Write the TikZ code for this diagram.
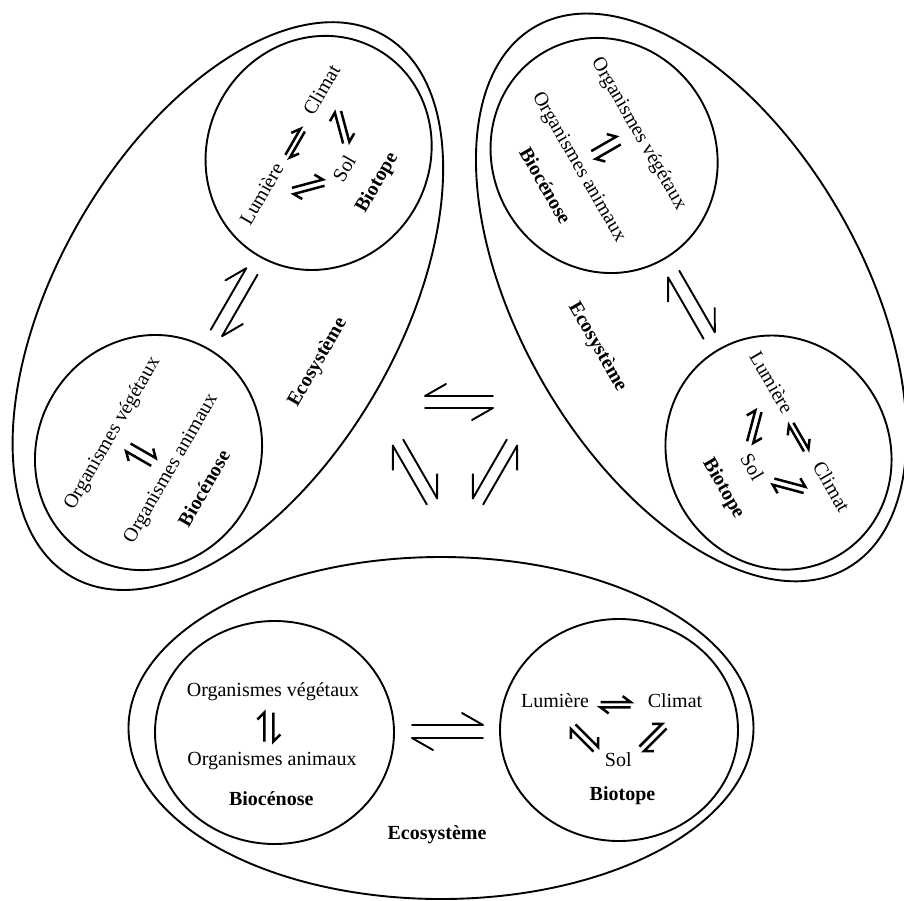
\documentclass[tikz,border=0pt]{standalone}
\usepackage{fontspec}
\setmainfont{Liberation Serif}
\usetikzlibrary{shapes.geometric}
\tikzset{
  txt/.style={font=\fontsize{20}{24}\selectfont, inner sep=0pt, anchor=base},
  btxt/.style={txt, font=\fontsize{20}{24}\selectfont\bfseries},
  ring/.style={draw, ellipse, line width=1.9pt, inner sep=0pt, outer sep=0pt},
  bigharp/.style={line width=1.9pt, line cap=round, line join=round},
  smallharp/.style={line width=2.5pt, line cap=butt, line join=miter},
}
% rightwards harpoon over leftwards harpoon: x, y, angle, half length, half gap, barb dx, barb dy
\newcommand{\harpR}[7]{%
  \begin{scope}[shift={(#1,#2)}, rotate=#3]
    \draw (-#4,#5) -- (#4,#5) -- ++(-#6,#7);
    \draw (#4,-#5) -- (-#4,-#5) -- ++(#6,-#7);
  \end{scope}}
% leftwards harpoon over rightwards harpoon
\newcommand{\harpL}[7]{%
  \begin{scope}[shift={(#1,#2)}, rotate=#3]
    \draw (#4,#5) -- (-#4,#5) -- ++(#6,#7);
    \draw (-#4,-#5) -- (#4,-#5) -- ++(-#6,-#7);
  \end{scope}}
\newcommand{\ecogroup}[1]{%
  \node[ring, minimum width=625pt, minimum height=342pt] (#1-eco) at (441,-728) {};
  \node[ring, minimum width=239pt, minimum height=223pt] (#1-bioc) at (274.5,-732.5) {};
  \node[ring, minimum width=238pt, minimum height=222pt] (#1-biot) at (619,-730) {};
  \node[txt] (#1-veg) at (273,-696.7) {Organismes végétaux};
  \node[txt] (#1-ani) at (272,-765) {Organismes animaux};
  \node[btxt] (#1-bcn) at (271.3,-805) {Biocénose};
  \node[txt] (#1-lum) at (555,-707.7) {Lumière};
  \node[txt] (#1-cli) at (675,-707.7) {Climat};
  \node[txt] (#1-sol) at (618.3,-766.7) {Sol};
  \node[btxt] (#1-btp) at (622.5,-800.7) {Biotope};
  \node[btxt] (#1-ecl) at (437,-839) {Ecosystème};
  \begin{scope}[smallharp]
    \harpR{268.8}{-727}{90}{14.5}{4.5}{7}{7}
    \harpR{615.7}{-704.8}{0}{15}{2.6}{8}{6}
    \harpR{584.5}{-738}{-45}{16}{3.2}{7}{7}
    \harpR{653}{-737.5}{45}{16}{3.2}{7}{7}
  \end{scope}
  \begin{scope}[bigharp]
    \harpR{447.5}{-731.5}{0}{35.5}{6.5}{21}{12}
  \end{scope}
}
\begin{document}
\begin{tikzpicture}[x=1pt,y=1pt]
\useasboundingbox (0,-900) rectangle (904,0);
\ecogroup{b}
\begin{scope}[shift={(-623.1,-324)}, rotate=60, transform shape]
  \ecogroup{l}
\end{scope}
\begin{scope}[shift={(1101.2,448.5)}, rotate=-60, transform shape]
  \ecogroup{r}
\end{scope}
\begin{scope}[bigharp]
  \harpL{459}{-402}{0}{34}{6}{21}{12}
  \harpR{415}{-472}{-60}{34}{6}{21}{12}
  \harpL{495}{-472}{60}{34}{6}{21}{12}
\end{scope}
\end{tikzpicture}
\end{document}
